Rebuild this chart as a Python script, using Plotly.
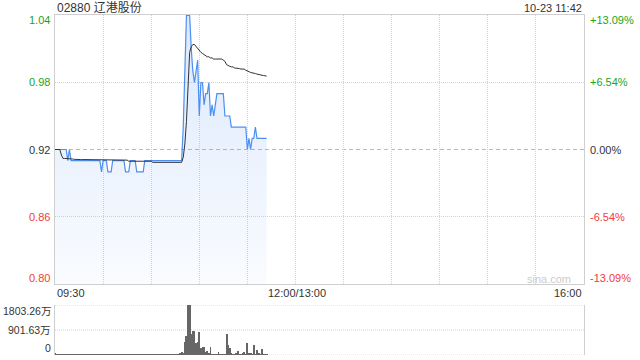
import plotly.graph_objects as go

# ---------------- data ----------------
TITLE = "02880 辽港股份"
STAMP = "10-23 11:42"
PREV_CLOSE = 0.92
TOTAL_MINUTES = 330  # 09:30-12:00 + 13:00-16:00

price = [
    0.92, 0.92, 0.92, 0.92, 0.92, 0.92, 0.92, 0.92, 0.91, 0.92,
    0.91, 0.91, 0.91, 0.91, 0.91, 0.91, 0.91, 0.91, 0.91, 0.91,
    0.91, 0.91, 0.91, 0.91, 0.91, 0.91, 0.91, 0.91, 0.91, 0.90,
    0.91, 0.91, 0.91, 0.90, 0.90, 0.90, 0.91, 0.91, 0.91, 0.91,
    0.91, 0.91, 0.91, 0.91, 0.90, 0.90, 0.90, 0.91, 0.91, 0.91,
    0.91, 0.90, 0.90, 0.90, 0.90, 0.90, 0.91, 0.91, 0.91, 0.91,
    0.91, 0.91, 0.91, 0.91, 0.91, 0.91, 0.91, 0.91, 0.91, 0.91,
    0.91, 0.91, 0.91, 0.91, 0.91, 0.91, 0.91, 0.91, 0.91, 0.91,
    0.94, 1.00, 1.04, 1.04, 1.04, 1.01, 0.99, 0.98, 0.99, 1.00,
    0.95, 0.98, 0.98, 0.96, 0.97, 0.97, 0.98, 0.95, 0.96, 0.95,
    0.96, 0.97, 0.97, 0.97, 0.97, 0.97, 0.95, 0.95, 0.95, 0.95,
    0.94, 0.94, 0.94, 0.94, 0.94, 0.94, 0.94, 0.94, 0.94, 0.94,
    0.92, 0.93, 0.92, 0.93, 0.93, 0.94, 0.93, 0.93, 0.93, 0.93,
    0.93, 0.93, 0.93,
]

avg_price = [
    0.920, 0.920, 0.920, 0.920, 0.915, 0.912, 0.912, 0.912, 0.912, 0.912,
    0.9115, 0.9115, 0.9112, 0.911, 0.911, 0.911, 0.911, 0.911, 0.911, 0.911,
    0.911, 0.911, 0.911, 0.911, 0.911, 0.911, 0.911, 0.911, 0.911, 0.911,
    0.911, 0.9105, 0.9105, 0.9105, 0.9105, 0.9105, 0.9105, 0.9105, 0.9105, 0.9105,
    0.9105, 0.9105, 0.9105, 0.9105, 0.9105, 0.9105, 0.9095, 0.9095, 0.9095, 0.9095,
    0.9095, 0.9095, 0.9095, 0.9095, 0.9095, 0.9095, 0.9095, 0.9095, 0.9095, 0.9095,
    0.9095, 0.9085, 0.9085, 0.9085, 0.9085, 0.9085, 0.9085, 0.9085, 0.9085, 0.9085,
    0.9085, 0.9085, 0.9085, 0.9085, 0.9085, 0.9085, 0.9085, 0.9085, 0.9085, 0.9085,
    0.913, 0.925, 0.945, 0.985, 1.007, 1.012, 1.014, 1.014, 1.012, 1.010,
    1.008, 1.007, 1.006, 1.005, 1.004, 1.003, 1.003, 1.002, 1.002, 1.001,
    1.001, 1.001, 1.001, 1.001, 1.001, 1.000, 0.999, 0.996, 0.995, 0.9945,
    0.994, 0.994, 0.993, 0.993, 0.993, 0.9925, 0.992, 0.992, 0.992, 0.991,
    0.990, 0.9897, 0.989, 0.9888, 0.9885, 0.988, 0.9875, 0.987, 0.987, 0.9865,
    0.9862, 0.986, 0.9857,
]

volume_wan = [
    60, 20, 15, 30, 10, 25, 15, 20, 35, 30,
    15, 10, 20, 15, 25, 10, 15, 20, 10, 15,
    25, 15, 10, 20, 15, 10, 15, 20, 10, 30,
    15, 10, 20, 25, 15, 10, 20, 15, 10, 15,
    20, 10, 15, 10, 25, 15, 10, 20, 15, 10,
    15, 20, 10, 15, 20, 10, 15, 10, 20, 15,
    10, 15, 20, 10, 15, 10, 20, 15, 10, 15,
    20, 10, 15, 20, 10, 15, 20, 30, 40, 97,
    40, 483, 685, 1803.26, 1790, 757, 880, 880, 422, 458,
    818, 242, 303, 303, 97, 158, 45, 303, 20, 15,
    15, 10, 97, 25, 15, 15, 10, 745, 350, 242,
    45, 15, 30, 45, 158, 25, 15, 60, 97, 25,
    422, 60, 45, 25, 350, 25, 170, 45, 30, 200,
    15, 25, 15,
]

minutes = list(range(len(price)))

price_ticks = [1.04, 0.98, 0.92, 0.86, 0.80]
price_tick_text = ["1.04", "0.98", "0.92", "0.86", "0.80"]
pct_tick_text = ["+13.09%", "+6.54%", "0.00%", "-6.54%", "-13.09%"]
vol_ticks = [1803.26, 901.63, 0]
vol_tick_text = ["1803.26万", "901.63万", "0"]
time_ticks = [0, 150, 330]
time_tick_text = ["09:30", "12:00/13:00", "16:00"]
grid_minutes = [30, 60, 90, 120, 150, 180, 210, 240, 270, 300]

# ---------------- styles ----------------
UP = "#1aa51a"
DOWN = "#f23b3b"
FLAT = "#333333"
BORDER = "#cfcfcf"
GRID = "#d4d4d4"
FONT = "Liberation Sans, Arial, Noto Sans CJK SC, sans-serif"
PCT = 0.1309
y_lo = PREV_CLOSE * (1 - PCT)
y_hi = PREV_CLOSE * (1 + PCT)

fig = go.Figure()

fig.add_trace(go.Scatter(
    x=minutes, y=price, mode="lines", xaxis="x", yaxis="y",
    line=dict(color="#4d8ef2", width=1.2),
    fill="tozeroy",
    fillgradient=dict(type="vertical",
                      colorscale=[[0, "rgba(77,142,242,0.03)"], [1, "rgba(77,142,242,0.20)"]],
                      start=y_lo, stop=y_hi),
    hoverinfo="skip", showlegend=False,
))
fig.add_trace(go.Scatter(
    x=minutes, y=avg_price, mode="lines", xaxis="x", yaxis="y",
    line=dict(color="#333333", width=1),
    hoverinfo="skip", showlegend=False,
))
fig.add_trace(go.Bar(
    x=minutes, y=volume_wan, xaxis="x2", yaxis="y2",
    marker=dict(color="#666666", line=dict(width=0)),
    width=0.6, hoverinfo="skip", showlegend=False,
))

W, H = 640, 360
ml, mr, mt, mb = 55, 56, 15, 5
ph = H - mt - mb
main_bottom = (H - mb - 284) / ph
vol_top = (H - mb - 305) / ph

fig.update_layout(
    width=W, height=H,
    margin=dict(l=ml, r=mr, t=mt, b=mb),
    paper_bgcolor="white", plot_bgcolor="white",
    font=dict(family=FONT, size=11, color=FLAT),
    bargap=0,
    xaxis=dict(domain=[0, 1], range=[0, TOTAL_MINUTES], anchor="y",
               tickvals=grid_minutes, showticklabels=False, ticks="",
               showgrid=True, gridcolor=GRID, griddash="1px,1px", gridwidth=1,
               showline=True, linecolor=BORDER, linewidth=1, mirror=True,
               zeroline=False, fixedrange=True),
    yaxis=dict(domain=[main_bottom, 1], range=[y_lo, y_hi], anchor="x",
               tickvals=[0.86, 0.98], showticklabels=False, ticks="",
               showgrid=True, gridcolor=GRID, griddash="1px,1px", gridwidth=1,
               showline=True, linecolor=BORDER, linewidth=1, mirror=True,
               zeroline=False, fixedrange=True),
    xaxis2=dict(domain=[0, 1], range=[0, TOTAL_MINUTES], anchor="y2",
                showticklabels=False, ticks="", showgrid=False,
                showline=False, zeroline=False, fixedrange=True),
    yaxis2=dict(domain=[0, vol_top], range=[0, vol_ticks[0]], anchor="x2",
                showticklabels=False, ticks="", showgrid=False,
                showline=True, linecolor=BORDER, linewidth=1, mirror=True,
                zeroline=False, fixedrange=True),
)

shapes = []
# previous close dashed line
shapes.append(dict(type="line", xref="x domain", yref="y", x0=0, x1=1,
                   y0=PREV_CLOSE, y1=PREV_CLOSE, layer="below",
                   line=dict(color="#bbbbbb", width=1, dash="4px,3px")))
# volume dotted lines
for v in vol_ticks:
    shapes.append(dict(type="line", xref="x2 domain", yref="y2", x0=0, x1=1,
                       y0=v, y1=v, layer="below",
                       line=dict(color=GRID, width=1, dash="1px,1px")))
fig.update_layout(shapes=shapes)

ann = []

def color_for(v):
    if v > PREV_CLOSE + 1e-9:
        return UP
    if v < PREV_CLOSE - 1e-9:
        return DOWN
    return FLAT

for i, (v, t, pt) in enumerate(zip(price_ticks, price_tick_text, pct_tick_text)):
    ys = -5 if i == 0 else (6 if i == len(price_ticks) - 1 else 0)
    c = color_for(v)
    ann.append(dict(xref="paper", yref="y", x=0, y=v, text=t, showarrow=False,
                    xanchor="right", yanchor="middle", xshift=-3, yshift=ys,
                    font=dict(color=c, size=11)))
    ann.append(dict(xref="paper", yref="y", x=1, y=v, text=pt, showarrow=False,
                    xanchor="left", yanchor="middle", xshift=4, yshift=ys,
                    font=dict(color=c, size=11)))

for i, (v, t) in enumerate(zip(vol_ticks, vol_tick_text)):
    ys = -6 if i == 0 else (7 if i == len(vol_ticks) - 1 else 0)
    ann.append(dict(xref="paper", yref="y2", x=0, y=v, text=t, showarrow=False,
                    xanchor="right", yanchor="middle", xshift=-2, yshift=ys,
                    font=dict(color=FLAT, size=10.5)))

anchors = ["left", "center", "right"]
for v, t, a in zip(time_ticks, time_tick_text, anchors):
    ann.append(dict(xref="x", yref="paper", x=v, y=(H - mb - 293) / ph, text=t,
                    showarrow=False, xanchor=a, yanchor="middle",
                    xshift=2 if a == "center" else 0,
                    font=dict(color=FLAT, size=11)))

ann.append(dict(xref="paper", yref="paper", x=0, y=(H - mb - 8) / ph, text=TITLE,
                showarrow=False, xanchor="left", yanchor="middle",
                font=dict(color=FLAT, size=12, family="Liberation Sans, Noto Sans CJK SC, sans-serif")))
ann.append(dict(xref="paper", yref="paper", x=1, y=(H - mb - 8) / ph, text=STAMP,
                showarrow=False, xanchor="right", yanchor="middle",
                font=dict(color=FLAT, size=11)))
ann.append(dict(xref="paper", yref="paper", x=(573 - ml) / (W - ml - mr), y=(H - mb - 279) / ph,
                text="sina.com", showarrow=False, xanchor="right", yanchor="middle",
                font=dict(color="#cccccc", size=11)))

fig.update_layout(annotations=ann)
fig.write_html("out.html")
